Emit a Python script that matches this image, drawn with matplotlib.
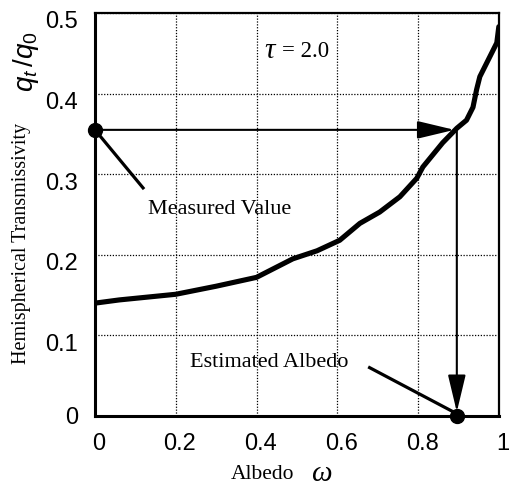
import numpy as np
import matplotlib
matplotlib.use("Agg")
import matplotlib.pyplot as plt
import matplotlib.transforms as mtransforms

# curve: hemispherical transmissivity vs albedo (tau = 2.0)
albedo = [0.0, 0.06, 0.2, 0.3, 0.4, 0.49, 0.55, 0.606, 0.656, 0.705, 0.755, 0.797,
          0.812, 0.861, 0.896, 0.92, 0.936, 0.945, 0.953, 0.97, 0.995, 1.0]
transmissivity = [0.140, 0.144, 0.151, 0.161, 0.172, 0.195, 0.205, 0.218, 0.239, 0.253, 0.272, 0.295,
                  0.309, 0.339, 0.357, 0.367, 0.383, 0.405, 0.421, 0.438, 0.463, 0.483]

measured_value = 0.355
estimated_albedo = 0.896

x_ticks = [0, 0.2, 0.4, 0.6, 0.8, 1.0]
x_tick_labels = ["0", "0.2", "0.4", "0.6", "0.8", "1"]
y_ticks = [0, 0.1, 0.2, 0.3, 0.4, 0.5]
y_tick_labels = ["0", "0.1", "0.2", "0.3", "0.4", "0.5"]

serif = "Liberation Serif"
sans = "Liberation Sans"
plt.rcParams["mathtext.fontset"] = "custom"
plt.rcParams["mathtext.it"] = "Liberation Sans:italic"
plt.rcParams["mathtext.rm"] = "Liberation Sans"

fig = plt.figure(figsize=(5.09, 4.92), dpi=100)
ax = fig.add_axes([0.1866, 0.1545, 0.7934, 0.8191])

ax.plot(albedo, transmissivity, color="black", lw=3.7, solid_capstyle="round",
        solid_joinstyle="round", zorder=4)

arrow_style = dict(arrowstyle="-|>,head_length=2.3,head_width=0.55", color="black",
                   lw=1.5, shrinkA=0, shrinkB=0)
# horizontal arrow from measured value to the curve
ax.annotate("", xy=(estimated_albedo - 0.006, measured_value), xytext=(0.0, measured_value),
            arrowprops=arrow_style, zorder=5)
# vertical arrow down to the albedo axis
ax.annotate("", xy=(estimated_albedo, 0.005), xytext=(estimated_albedo, measured_value),
            arrowprops=arrow_style, zorder=5)

ax.plot([0.0, estimated_albedo], [measured_value, 0.0], "o", color="black", ms=10,
        clip_on=False, zorder=6)

# leader lines and labels
ax.plot([0.0, 0.119], [measured_value, 0.283], color="black", lw=2.3, zorder=5)
ax.text(0.131, 0.256, "Measured Value", fontsize=16, family=serif, ha="left", va="center")
ax.plot([0.68, 0.884], [0.060, 0.006], color="black", lw=2.3, zorder=5)
ax.text(0.235, 0.066, "Estimated Albedo", fontsize=16, family=serif, ha="left", va="center")
ax.text(0.42, 0.453, "τ", fontsize=21, family=serif, style="italic", ha="left", va="center")
ax.text(0.462, 0.452, "= 2.0", fontsize=16.5, family=serif, ha="left", va="center")

ax.set_xlim(0, 1)
ax.set_ylim(0, 0.5)
ax.set_xticks(x_ticks)
ax.set_xticklabels(x_tick_labels, family=sans, fontsize=17)
ax.set_yticks(y_ticks)
ax.set_yticklabels(y_tick_labels, family=sans, fontsize=17)
ax.tick_params(axis="x", length=0, pad=12)
ax.tick_params(axis="y", length=0, pad=12)

# the printed tick labels sit a little off their grid lines
x_shift = mtransforms.ScaledTranslation(4 / 100, 0, fig.dpi_scale_trans)
for lab in ax.get_xticklabels():
    lab.set_transform(lab.get_transform() + x_shift)
y_shift = mtransforms.ScaledTranslation(0, -7 / 100, fig.dpi_scale_trans)
for lab in ax.get_yticklabels()[1:]:
    lab.set_transform(lab.get_transform() + y_shift)

ax.grid(True, color="black", ls=(0, (1, 1.3)), lw=0.9)
for side in ax.spines.values():
    side.set_linewidth(1.6)
ax.spines["left"].set_linewidth(2.2)
ax.spines["bottom"].set_linewidth(2.2)

fig.text(0.043, 0.506, "Hemispherical Transmissivity", rotation=90, fontsize=14.5,
         family=serif, ha="center", va="center")
fig.text(0.052, 0.874, r"$q_t\,/q_0$", rotation=90, fontsize=20, ha="center", va="center")
fig.text(0.515, 0.036, "Albedo", fontsize=15.5, family=serif, ha="center", va="center")
fig.text(0.631, 0.036, "ω", fontsize=21, family=serif, style="italic", ha="center", va="center")

fig.savefig("out.png", dpi=100)
